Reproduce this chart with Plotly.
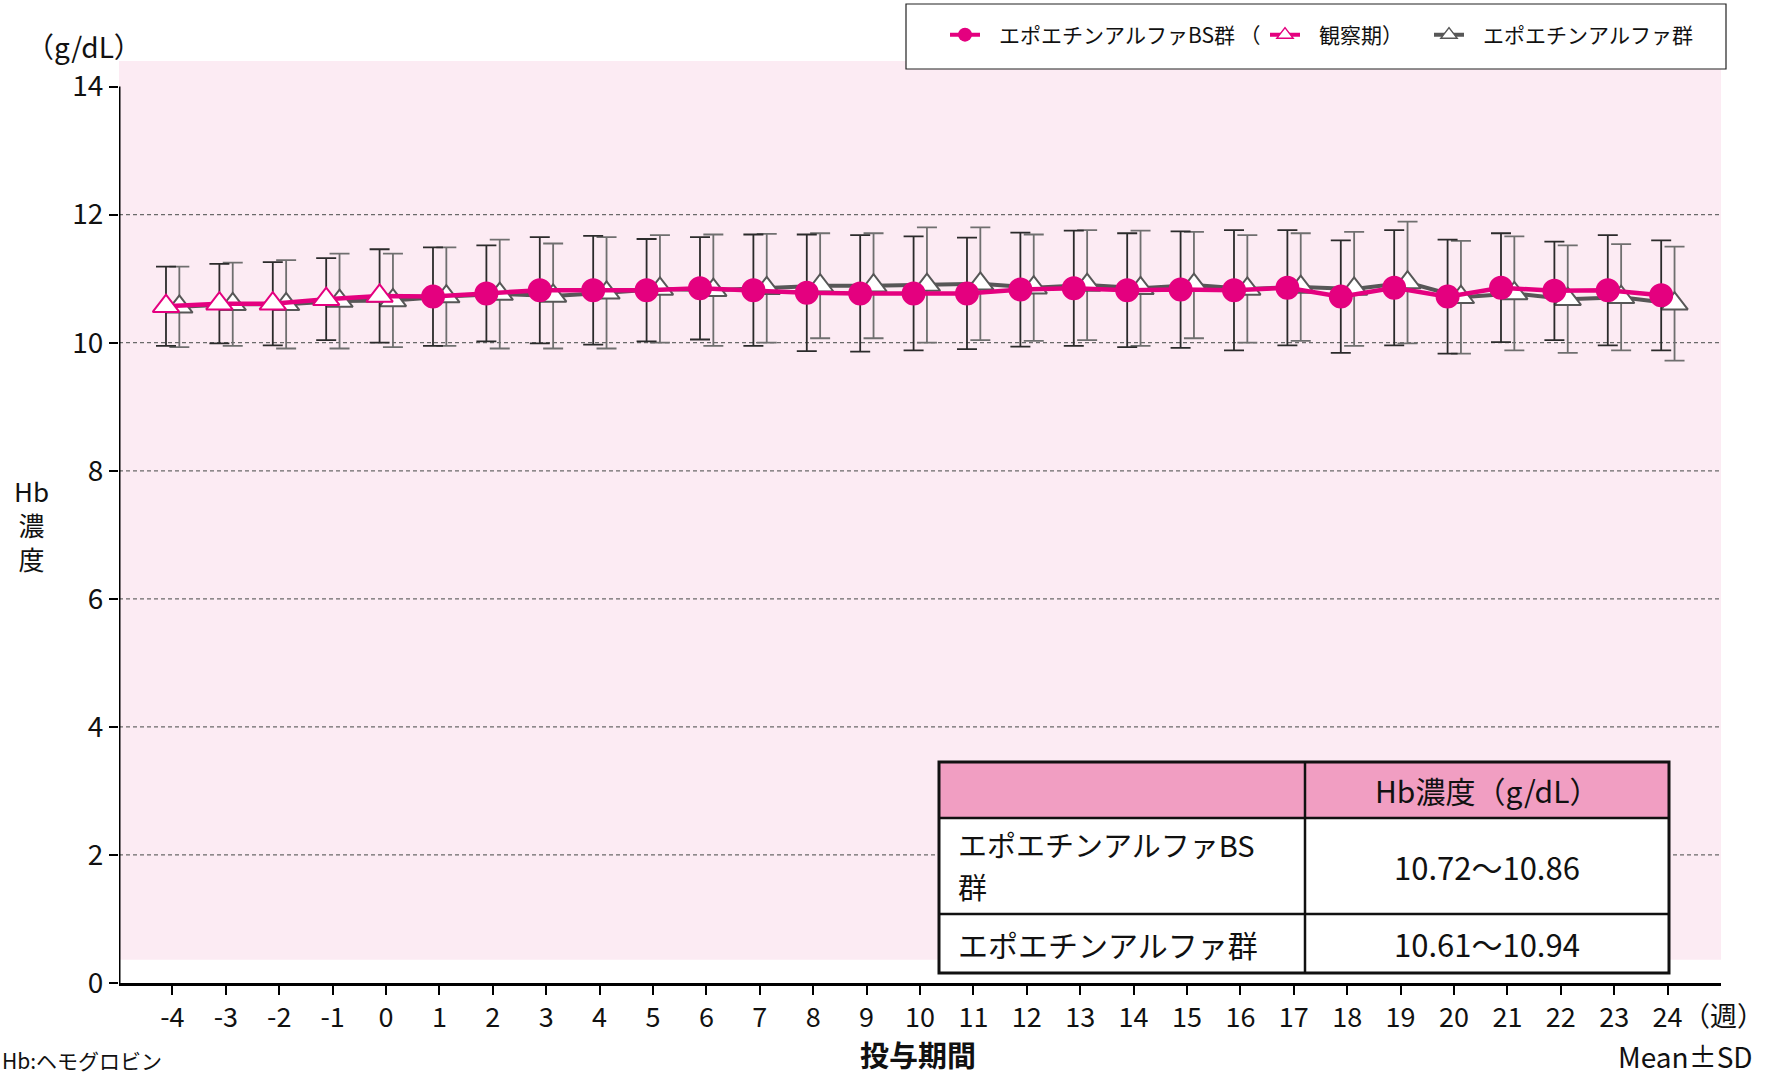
import plotly.graph_objects as go

# ---- data -------------------------------------------------------------
weeks = list(range(-4, 25))
week_labels = [str(w) for w in weeks]

# エポエチンアルファBS群 (weeks -4..0 = 観察期, 1..24 = 投与期)
bs_mean = [10.57, 10.61, 10.61, 10.68, 10.73,
           10.72, 10.77, 10.82, 10.82, 10.82, 10.85, 10.82, 10.78, 10.77, 10.77,
           10.77, 10.83, 10.85, 10.82, 10.83, 10.82, 10.86, 10.72, 10.86, 10.72,
           10.86, 10.81, 10.82, 10.74]
bs_sd = [0.62, 0.62, 0.65, 0.64, 0.73,
         0.77, 0.75, 0.83, 0.85, 0.80, 0.80, 0.87, 0.91, 0.91, 0.89,
         0.87, 0.89, 0.90, 0.89, 0.91, 0.94, 0.90, 0.88, 0.90, 0.89,
         0.85, 0.77, 0.86, 0.86]

# エポエチンアルファ群
ea_mean = [10.56, 10.60, 10.60, 10.65, 10.66,
           10.72, 10.76, 10.73, 10.78, 10.84, 10.82, 10.85, 10.89, 10.89, 10.90,
           10.92, 10.86, 10.90, 10.85, 10.90, 10.84, 10.87, 10.84, 10.94, 10.71,
           10.77, 10.68, 10.71, 10.61]
ea_sd = [0.63, 0.65, 0.69, 0.74, 0.73,
         0.77, 0.85, 0.82, 0.87, 0.84, 0.87, 0.85, 0.82, 0.82, 0.90,
         0.88, 0.83, 0.86, 0.90, 0.83, 0.84, 0.84, 0.89, 0.95, 0.88,
         0.89, 0.84, 0.83, 0.89]

y_ticks = [0, 2, 4, 6, 8, 10, 12, 14]
grid_values = [2, 4, 6, 8, 10, 12]

legend_labels = ["エポエチンアルファBS群 （", "観察期）", "エポエチンアルファ群"]
table_header = ["", "Hb濃度（g/dL）"]
table_group_bs = ["エポエチンアルファBS", "群"]
table_group_ea = "エポエチンアルファ群"
table_ranges = ["10.72～10.86", "10.61～10.94"]

# ---- style ------------------------------------------------------------
PINK = "#e4007f"
GRAY = "#575757"
BG_PINK = "#fcebf3"
HEAD_PINK = "#f19ec2"
FONT = "Noto Sans CJK JP"

W, H = 1770, 1078
ML, MR, MT, MB = 119, 49, 61, 95
PW, PH = W - ML - MR, H - MT - MB


def px(x):
    return (x - ML) / PW


def py(y):
    return (H - MB - y) / PH


bs_x = [w - 0.12 for w in weeks]
ea_x = [w + 0.13 for w in weeks]

bs_symbols = ["triangle-up" if w <= 0 else "circle" for w in weeks]
bs_fill = ["white" if w <= 0 else PINK for w in weeks]
bs_size = [23 if w <= 0 else 22 for w in weeks]

fig = go.Figure()

fig.add_trace(go.Scatter(
    x=ea_x, y=ea_mean, mode="lines+markers", showlegend=False,
    line=dict(color=GRAY, width=4),
    marker=dict(symbol="triangle-up", size=23, color="white", opacity=1,
                line=dict(color=GRAY, width=2)),
    error_y=dict(type="data", array=ea_sd, visible=True,
                 color="#6f6f6f", thickness=1.8, width=10),
))

fig.add_trace(go.Scatter(
    x=bs_x, y=bs_mean, mode="lines+markers", showlegend=False,
    line=dict(color=PINK, width=4.5),
    marker=dict(symbol=bs_symbols, size=bs_size, color=bs_fill, opacity=1,
                line=dict(color=PINK, width=2)),
    error_y=dict(type="data", array=bs_sd, visible=True,
                 color="#2b2b2b", thickness=1.8, width=10),
))

# legend entries, each in its own legend box so they can be placed freely
legend_styles = [
    dict(line=dict(color=PINK, width=4),
         marker=dict(symbol="circle", size=14, color=PINK)),
    dict(line=dict(color=PINK, width=4),
         marker=dict(symbol="triangle-up", size=14, color="white",
                     line=dict(color=PINK, width=1.5))),
    dict(line=dict(color=GRAY, width=4),
         marker=dict(symbol="triangle-up", size=14, color="white",
                     line=dict(color=GRAY, width=1.5))),
]
legend_ids = ["legend", "legend2", "legend3"]
legend_px = [945, 1265, 1429]
PAD = "\u00a0\u00a0\u00a0"
for label, style, lid in zip(legend_labels, legend_styles, legend_ids):
    fig.add_trace(go.Scatter(x=[None], y=[None], mode="lines+markers",
                             name=PAD + label, legend=lid, **style))

legend_common = dict(orientation="h", yanchor="middle", xanchor="left",
                     bgcolor="rgba(0,0,0,0)", borderwidth=0,
                     font=dict(family=FONT, size=21, color="#111"),
                     itemsizing="trace")

shapes = []
# plot-area tint
shapes.append(dict(type="rect", xref="x", yref="y", x0=-5, x1=25, y0=0.364, y1=14.4,
                   fillcolor=BG_PINK, line=dict(width=0), layer="below"))
# dashed horizontal grid
for g in grid_values:
    shapes.append(dict(type="line", xref="x", yref="y", x0=-5, x1=25, y0=g, y1=g,
                       line=dict(color="#6a6a6a", width=1.3, dash="4px,3px"),
                       layer="below"))
# y axis line (stops at 14)
shapes.append(dict(type="line", xref="x", yref="y", x0=-5, x1=-5, y0=0, y1=14,
                   line=dict(color="black", width=3)))
# legend frame
shapes.append(dict(type="rect", xref="paper", yref="paper",
                   x0=px(906), x1=px(1726), y0=py(69), y1=py(4),
                   fillcolor="white", line=dict(color="#222", width=1.2),
                   layer="above"))

# summary table
T_L, T_R, T_C = 939, 1669, 1305
T_T, T_H, T_M, T_B = 762, 818, 914, 973
shapes.append(dict(type="rect", xref="paper", yref="paper",
                   x0=px(T_L), x1=px(T_R), y0=py(T_H), y1=py(T_T),
                   fillcolor=HEAD_PINK, line=dict(width=0), layer="above"))
shapes.append(dict(type="rect", xref="paper", yref="paper",
                   x0=px(T_L), x1=px(T_R), y0=py(T_B), y1=py(T_H),
                   fillcolor="white", line=dict(width=0), layer="above"))
for yy in (T_H, T_M):
    shapes.append(dict(type="line", xref="paper", yref="paper",
                       x0=px(T_L), x1=px(T_R), y0=py(yy), y1=py(yy),
                       line=dict(color="#111", width=2.5), layer="above"))
shapes.append(dict(type="line", xref="paper", yref="paper",
                   x0=px(T_C), x1=px(T_C), y0=py(T_B), y1=py(T_T),
                   line=dict(color="#111", width=2.5), layer="above"))
shapes.append(dict(type="rect", xref="paper", yref="paper",
                   x0=px(T_L), x1=px(T_R), y0=py(T_B), y1=py(T_T),
                   line=dict(color="#111", width=3), layer="above"))

ann = []


def text(x, y, s, size=26, xanchor="center", yanchor="middle", **kw):
    ann.append(dict(x=px(x), y=py(y), xref="paper", yref="paper", text=s,
                    showarrow=False, xanchor=xanchor, yanchor=yanchor,
                    font=dict(family=FONT, size=size, color="#111"), **kw))


# table texts
text((T_C + T_R) / 2, (T_T + T_H) / 2, table_header[1], size=30)
text(956, 844, table_group_bs[0], size=29, xanchor="left")
text(956, 886, table_group_bs[1], size=29, xanchor="left")
text((T_C + T_R) / 2, (T_H + T_M) / 2, table_ranges[0], size=31)
text(956, (T_M + T_B) / 2, table_group_ea, size=30, xanchor="left")
text((T_C + T_R) / 2, (T_M + T_B) / 2, table_ranges[1], size=31)

# axis titles and notes
text(84, 46, "（g/dL）", size=28)
text(31, 524, "Hb<br>濃<br>度", size=26)
text(1723, 1014, "（週）", size=27)
text(918, 1054, "<b>投与期間</b>", size=29)
text(1685, 1056, "Mean±SD", size=28)
text(0, 1077, "Hb:ヘモグロビン", size=21, xanchor="left", yanchor="bottom")

fig.update_layout(
    width=W, height=H,
    margin=dict(l=ML, r=MR, t=MT, b=MB),
    paper_bgcolor="white", plot_bgcolor="white",
    font=dict(family=FONT, color="#111"),
    shapes=shapes, annotations=ann,
    legend=dict(x=px(legend_px[0]), y=py(35), **legend_common),
    legend2=dict(x=px(legend_px[1]), y=py(35), **legend_common),
    legend3=dict(x=px(legend_px[2]), y=py(35), **legend_common),
    xaxis=dict(range=[-5, 25], tickvals=weeks, ticktext=week_labels,
               ticks="outside", ticklen=9, tickwidth=2, tickcolor="black",
               showline=True, linecolor="black", linewidth=3,
               showgrid=False, zeroline=False,
               tickfont=dict(family=FONT, size=27, color="#111")),
    yaxis=dict(range=[0, 14.4], tickvals=y_ticks,
               ticks="outside", ticklen=9, tickwidth=2, tickcolor="black",
               showline=False, showgrid=False, zeroline=False,
               tickfont=dict(family=FONT, size=28, color="#111")),
)

fig.write_html("out.html")
